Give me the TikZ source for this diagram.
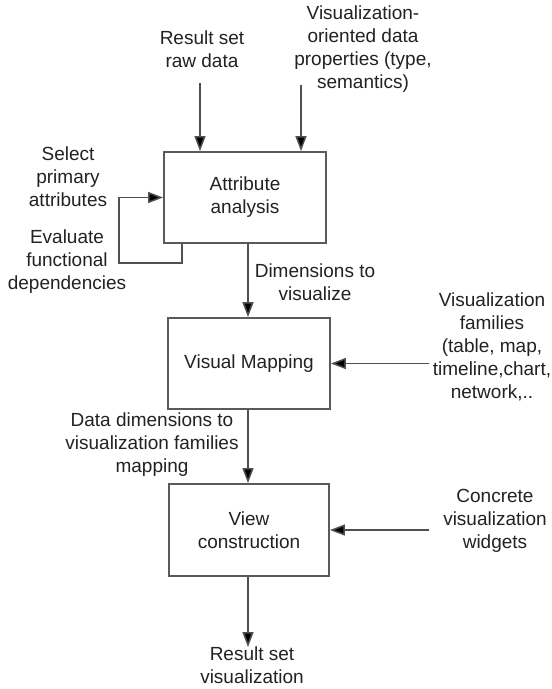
\documentclass[tikz,border=0pt]{standalone}
\usepackage{fontspec}
\setmainfont{Liberation Sans}
\usetikzlibrary{arrows.meta}
\definecolor{linegray}{HTML}{505050}
\definecolor{boxgray}{HTML}{5A5A5A}
\definecolor{txt}{HTML}{222222}
\begin{document}
\begin{tikzpicture}[x=1pt,y=-1pt,
  every node/.style={text=txt, font=\fontsize{19}{23}\selectfont},
  stage/.style={draw=boxgray, line width=1.8pt, minimum width=162pt,
    minimum height=91pt, align=center, inner sep=0pt},
  lbl/.style={align=center, inner sep=0pt},
  flow/.style={draw=linegray, line width=1.5pt,
    -{Triangle[length=15pt,width=11pt,fill=black]}}]
  \useasboundingbox[fill=white] (0,0) rectangle (552,689);

  % processing stages
  \node[stage] (b1) at (245,197.5) {Attribute\\analysis};
  \node[stage] (b2) at (249,363.5) {Visual Mapping};
  \node[stage, minimum width=160pt, minimum height=92pt] (b3) at (249,530) {View\\construction};

  % inputs and labels
  \node[lbl] (raw) at (202,49.5) {Result set\\raw data};
  \node[lbl] (props) at (363,49.5) {Visualization-\\oriented data\\properties (type,\\semantics)};
  \node[lbl] (sel) at (68,177) {Select\\primary\\attributes};
  \node[lbl] (fd) at (67,261.5) {Evaluate\\functional\\dependencies};
  \node[lbl] (dims) at (315,282) {Dimensions to\\visualize};
  \node[lbl] (fam) at (492,346.5) {Visualization\\families\\(table, map,\\timeline,chart,\\network,..};
  \node[lbl] (map) at (152,445) {Data dimensions to\\visualization families\\mapping};
  \node[lbl] (wid) at (495,521) {Concrete\\visualization\\widgets};
  \node[lbl] (res) at (252,665.5) {Result set\\visualization};

  % free ends of the connectors
  \coordinate (t1) at (200,83);
  \coordinate (t2) at (301,85);
  \coordinate (lp) at (119,230);
  \coordinate (vf) at (429,363.5);
  \coordinate (vw) at (429,530);
  \coordinate (out) at (248,647);

  % connectors
  \draw[flow] (t1) -- (t1 |- b1.north);
  \draw[flow] (t2) -- (t2 |- b1.north);
  \draw[flow] ([xshift=19pt]b1.south west) -- ++(0,19) -| (lp) |- (b1.west);
  \draw[flow] (b1.south -| out) -- (b2.north -| out);
  \draw[flow] (b2.south -| out) -- (b3.north -| out);
  \draw[flow] (vf) -- (b2.east);
  \draw[flow] (vw) -- (b3.east);
  \draw[flow] (b3.south -| out) -- (out);
\end{tikzpicture}
\end{document}
